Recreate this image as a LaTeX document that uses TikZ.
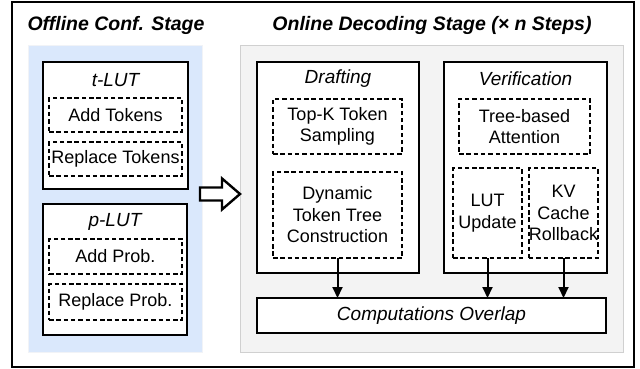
\documentclass[tikz,border=0pt]{standalone}
\usepackage{fontspec}
\setmainfont{Liberation Sans}
\usetikzlibrary{arrows.meta,shadows}
\definecolor{panelblue}{RGB}{218,232,252}
\definecolor{panelgray}{RGB}{243,243,243}
\definecolor{panelline}{RGB}{208,208,208}
\begin{document}
\begin{tikzpicture}[x=1pt,y=-1pt,
  every node/.style={inner sep=0pt,outer sep=0pt,font=\fontsize{18}{21.5}\selectfont,align=center},
  solidbox/.style={draw,line width=2.8pt,fill=white},
  dashbox/.style={draw,line width=1.8pt,dash pattern=on 4.5pt off 2.8pt,fill=white},
  panel/.style={line width=0.5pt,drop shadow={opacity=0.18,shadow xshift=1pt,shadow yshift=-1.2pt}},
  ttl/.style={font=\fontsize{19.5}{22}\selectfont\bfseries\itshape},
  lbl/.style={font=\fontsize{19}{22}\selectfont\itshape},
  arr/.style={line width=2pt,-{Triangle[length=11pt,width=10pt]}}
]
\useasboundingbox (0,0) rectangle (640,369);
\node[draw,line width=2.5pt,minimum width=622pt,minimum height=365pt] (frame) at (323,184.5) {};
\node[panel,fill=panelblue,draw=panelblue!85!black!20,minimum width=174pt,minimum height=307pt] (blue) at (115,198.5) {};
\node[panel,fill=panelgray,draw=panelline,minimum width=383pt,minimum height=307pt] (gray) at (431.5,198.5) {};
\node[ttl] (t1) at (116,25) {Offline Conf. Stage};
\node[ttl] (t2) at (432,25) {Online Decoding Stage (× n Steps)};
% t-LUT
\node[solidbox,minimum width=145pt,minimum height=127pt] (tlut) at (115.5,125.5) {};
\node[lbl] (tlutl) at (115.5,80) {t-LUT};
\node[dashbox,minimum width=133pt,minimum height=34pt] (addtok) at (115.5,115) {Add Tokens};
\node[dashbox,minimum width=133pt,minimum height=34pt] (reptok) at (115.5,159) {Replace Tokens};
% p-LUT
\node[solidbox,minimum width=144pt,minimum height=131pt] (plut) at (115,269.5) {};
\node[lbl] (plutl) at (115,222) {p-LUT};
\node[dashbox,minimum width=133pt,minimum height=35pt] (addprob) at (115.5,256.5) {Add Prob.};
\node[dashbox,minimum width=133pt,minimum height=36pt] (repprob) at (115.5,302) {Replace Prob.};
% block arrow
\coordinate (ba) at (200,194);
\draw[line width=2.4pt,fill=white,line join=miter] (ba) ++(0,-6.5) -- ++(22,0) -- ++(0,-9) -- ++(18,15.5) -- ++(-18,15.5) -- ++(0,-9) -- ++(-22,0) -- cycle;
% Drafting
\node[solidbox,minimum width=162pt,minimum height=211pt] (draft) at (338,167.5) {};
\node[lbl] (draftl) at (338,79) {Drafting};
\node[dashbox,minimum width=129pt,minimum height=55pt] (topk) at (337.5,126.5) {Top-K Token\\Sampling};
\node[dashbox,minimum width=129pt,minimum height=86pt] (dyn) at (337.5,215) {Dynamic\\Token Tree\\Construction};
% Verification
\node[solidbox,minimum width=163pt,minimum height=211pt] (verif) at (525.5,167.5) {};
\node[lbl] (verifl) at (525.5,79) {Verification};
\node[dashbox,minimum width=131pt,minimum height=55pt] (tree) at (524.5,126.5) {Tree-based\\Attention};
\node[dashbox,minimum width=69pt,minimum height=90pt] (lut) at (487.5,213) {LUT\\Update};
\node[dashbox,minimum width=69pt,minimum height=90pt] (kv) at (563.5,213) {KV\\Cache\\Rollback};
% Overlap
\node[solidbox,minimum width=349pt,minimum height=35pt,lbl] (comp) at (431.5,315.5) {Computations Overlap};
\draw[arr] (dyn.south) -- (dyn.south |- comp.north);
\draw[arr] (lut.south) -- (lut.south |- comp.north);
\draw[arr] (kv.south) -- (kv.south |- comp.north);
\end{tikzpicture}
\end{document}
